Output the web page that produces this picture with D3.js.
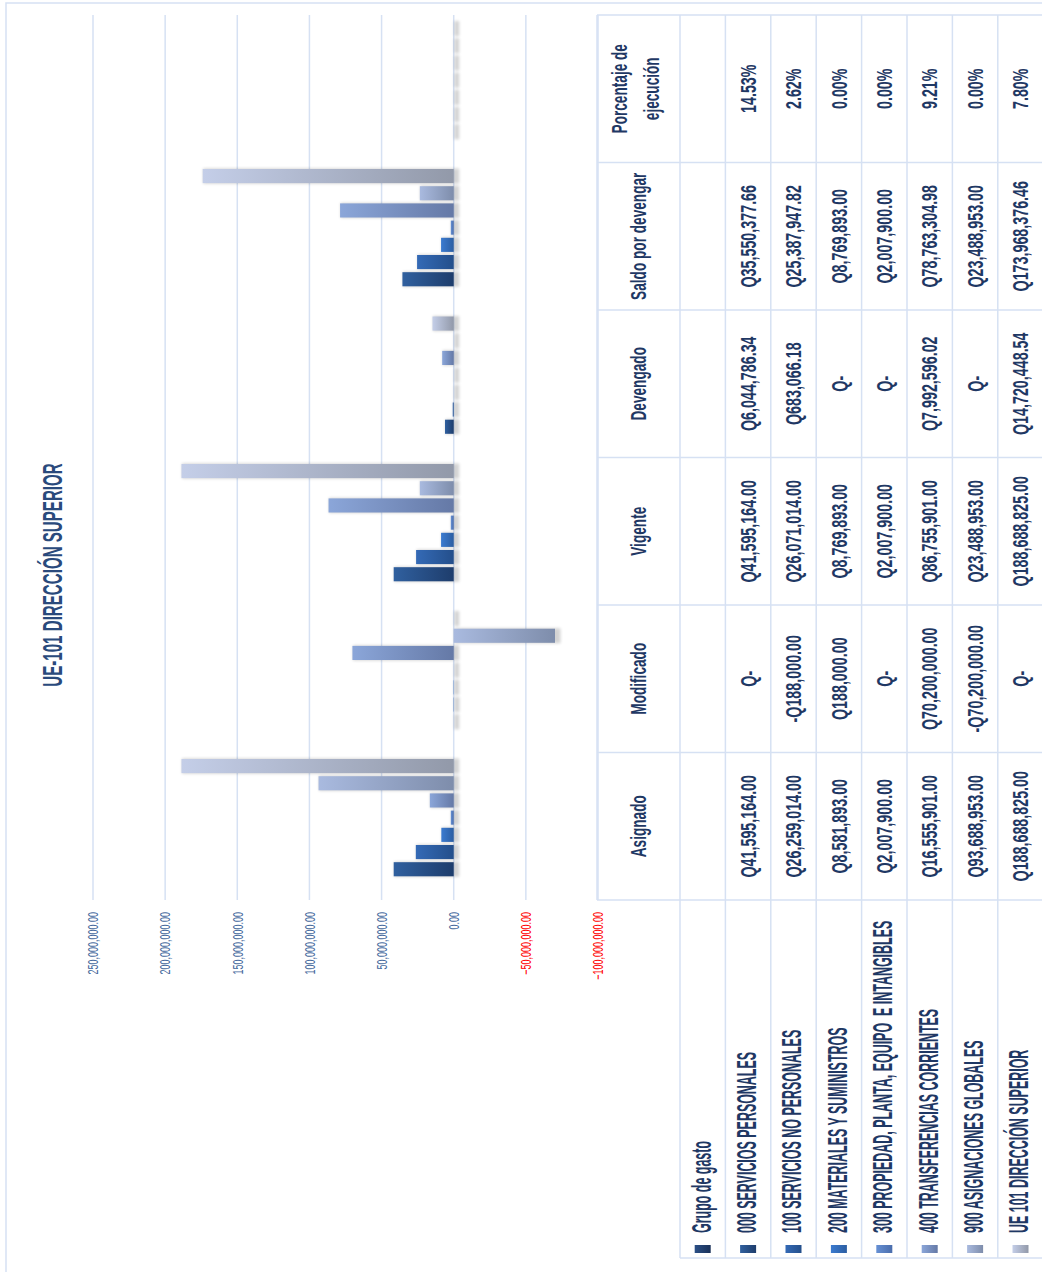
<!DOCTYPE html>
<html>
<head>
<meta charset="utf-8">
<script src="https://cdn.jsdelivr.net/npm/d3@7/dist/d3.min.js"></script>
<style>
  html, body { margin: 0; padding: 0; background: #fff; }
  svg { display: block; }
  text { font-family: "Liberation Sans", Arial, sans-serif; white-space: pre; }
</style>
</head>
<body>
<div id="chart"></div>
<script>
// ---- data ----
var title = "UE-101 DIRECCIÓN SUPERIOR";

var categories = ["Asignado", "Modificado", "Vigente", "Devengado", "Saldo por devengar", "Porcentaje de ejecución"];
var categoryLines = [["Asignado"], ["Modificado"], ["Vigente"], ["Devengado"], ["Saldo por devengar"], ["Porcentaje de", "ejecución"]];

var seriesNames = [
  "Grupo de gasto",
  "000 SERVICIOS PERSONALES",
  "100 SERVICIOS NO PERSONALES",
  "200 MATERIALES Y SUMINISTROS",
  "300 PROPIEDAD, PLANTA, EQUIPO  E INTANGIBLES",
  "400 TRANSFERENCIAS CORRIENTES",
  "900 ASIGNACIONES GLOBALES",
  "UE 101 DIRECCIÓN SUPERIOR"
];

// one value per category, in the order of `categories`
var grupoDeGasto      = [null, null, null, null, null, null];
var servicios000      = [41595164.00, 0, 41595164.00, 6044786.34, 35550377.66, 0.1453];
var servicios100      = [26259014.00, -188000.00, 26071014.00, 683066.18, 25387947.82, 0.0262];
var materiales200     = [8581893.00, 188000.00, 8769893.00, 0, 8769893.00, 0];
var propiedad300      = [2007900.00, 0, 2007900.00, 0, 2007900.00, 0];
var transferencias400 = [16555901.00, 70200000.00, 86755901.00, 7992596.02, 78763304.98, 0.0921];
var asignaciones900   = [93688953.00, -70200000.00, 23488953.00, 0, 23488953.00, 0];
var totalUE101        = [188688825.00, 0, 188688825.00, 14720448.54, 173968376.46, 0.0780];

var seriesValues = [grupoDeGasto, servicios000, servicios100, materiales200, propiedad300,
                    transferencias400, asignaciones900, totalUE101];

var valueTicks = [-100000000, -50000000, 0, 50000000, 100000000, 150000000, 200000000, 250000000];

// gradient [light end, dark end] per series
var seriesColors = [
  ["#2b4f86", "#1a3159"],
  ["#30609f", "#1e3d6c"],
  ["#346ab6", "#244f8b"],
  ["#3b7bd0", "#2c5ea2"],
  ["#6690d4", "#4a6dac"],
  ["#8ba6d9", "#6579a6"],
  ["#a9badf", "#7e8dab"],
  ["#c4cee8", "#9299a9"]
];

// ---- layout (drawn upright, then turned a quarter to the left) ----
var W = 1272, H = 1042;
var ink = "#1f3864";
var gridColor = "#d6e1f3";

var svg = d3.select("#chart").append("svg")
  .attr("width", H)
  .attr("height", W);

var defs = svg.append("defs");
seriesColors.forEach(function(c, i) {
  var lg = defs.append("linearGradient")
    .attr("id", "grad" + i)
    .attr("x1", 0).attr("y1", 0).attr("x2", 0).attr("y2", 1);
  lg.append("stop").attr("offset", "0%").attr("stop-color", c[0]);
  lg.append("stop").attr("offset", "100%").attr("stop-color", c[1]);
});
defs.append("filter").attr("id", "soft")
  .attr("x", "-50%").attr("y", "-50%").attr("width", "200%").attr("height", "200%")
  .append("feGaussianBlur").attr("stdDeviation", 1.6);

var g = svg.append("g")
  .attr("transform", "translate(0," + W + ") rotate(-90)");

// condensed text helper
function label(parent, x, y, str, o) {
  return parent.append("text")
    .attr("transform", "translate(" + x + "," + y + ") scale(" + o.sx + ",1)")
    .attr("text-anchor", o.anchor || "middle")
    .attr("dy", o.dy == null ? "0.35em" : o.dy)
    .style("font-size", o.size + "px")
    .style("font-weight", o.weight || "normal")
    .attr("fill", o.color || ink)
    .text(str);
}

// chart area border
g.append("rect")
  .attr("x", -10).attr("y", 6)
  .attr("width", 1279).attr("height", 1100)
  .attr("fill", "none")
  .attr("stroke", gridColor)
  .attr("stroke-width", 1.5);

var plotLeft = 372, plotRight = 1257;
var tableTop = 597, headerBottom = 680, rowH = 45.4, legendLeft = 14;

var x0 = d3.scaleBand().domain(categories).range([plotLeft, plotRight]);
var x1 = d3.scaleBand().domain(seriesNames).range([0, x0.bandwidth()])
  .paddingInner(0.18).paddingOuter(0.378);
var y = d3.scaleLinear().domain([-100000000, 250000000]).range([598, 93]);

// title
label(g, 697, 62, title, {size: 28, sx: 0.54, weight: "bold", dy: 0, color: "#2a4a7c"});

// gridlines
g.append("g").selectAll("line")
  .data(valueTicks)
  .enter().append("line")
  .attr("x1", plotLeft).attr("x2", plotRight)
  .attr("y1", function(d) { return y(d); })
  .attr("y2", function(d) { return y(d); })
  .attr("stroke", gridColor)
  .attr("stroke-width", 1.5);

// value axis
var axisSx = 0.6;
var axis = g.append("g")
  .attr("transform", "translate(" + plotLeft + ",0)")
  .call(d3.axisLeft(y).tickValues(valueTicks).tickFormat(d3.format(",.2f"))
    .tickSize(0).tickPadding(12 / axisSx));
axis.select(".domain").remove();
axis.attr("font-size", null).attr("font-family", null);
axis.selectAll("text")
  .attr("transform", "scale(" + axisSx + ",1)")
  .style("font-size", "15px")
  .attr("fill", function(d) { return d < 0 ? "#ff0000" : "#45689c"; });

// bars
var bars = [];
seriesValues.forEach(function(vals, s) {
  vals.forEach(function(v, c) {
    if (v == null) return;
    bars.push({series: s, category: categories[c], value: v});
  });
});

var barG = g.append("g");
var barX = function(d) { return x0(d.category) + x1(seriesNames[d.series]); };
var barTop = function(d) { return y(Math.max(d.value, 0)); };
var barH = function(d) { return Math.abs(y(d.value) - y(0)); };

barG.selectAll(".shadow")
  .data(bars)
  .enter().append("rect")
  .attr("class", "shadow")
  .attr("x", function(d) { return barX(d) - 0.5; })
  .attr("y", function(d) { return barTop(d) + 0.5; })
  .attr("width", x1.bandwidth() + 1)
  .attr("height", function(d) { return barH(d) + 5; })
  .attr("fill", "#000")
  .attr("opacity", 0.17)
  .attr("filter", "url(#soft)");

barG.selectAll(".bar")
  .data(bars)
  .enter().append("rect")
  .attr("class", "bar")
  .attr("x", barX)
  .attr("y", barTop)
  .attr("width", x1.bandwidth())
  .attr("height", barH)
  .attr("fill", function(d) { return "url(#grad" + d.series + ")"; });

// data table
var table = g.append("g");
var rowTop = function(i) { return headerBottom + i * rowH; };
var tableBottom = rowTop(seriesNames.length);
var edges = categories.map(function(c) { return x0(c); }).concat([plotRight]);

table.selectAll(".vline")
  .data(edges)
  .enter().append("line")
  .attr("x1", function(d) { return d; }).attr("x2", function(d) { return d; })
  .attr("y1", tableTop).attr("y2", tableBottom + 10)
  .attr("stroke", gridColor).attr("stroke-width", 1.5);

table.append("line")
  .attr("x1", legendLeft).attr("x2", legendLeft)
  .attr("y1", headerBottom).attr("y2", tableBottom + 10)
  .attr("stroke", gridColor).attr("stroke-width", 1.5);

table.append("line")
  .attr("x1", plotLeft).attr("x2", plotRight)
  .attr("y1", tableTop).attr("y2", tableTop)
  .attr("stroke", gridColor).attr("stroke-width", 1.5);

table.selectAll(".hline")
  .data(d3.range(seriesNames.length + 1))
  .enter().append("line")
  .attr("x1", legendLeft).attr("x2", plotRight)
  .attr("y1", rowTop).attr("y2", rowTop)
  .attr("stroke", gridColor).attr("stroke-width", 1.5);

// header
var headerMid = (tableTop + headerBottom) / 2;
categories.forEach(function(c, i) {
  var lines = categoryLines[i];
  lines.forEach(function(line, k) {
    var off = (k - (lines.length - 1) / 2) * 32;
    label(table, x0(c) + x0.bandwidth() / 2, headerMid - 3 * (lines.length - 1) + off, line,
      {size: 22, sx: 0.62, weight: "bold"});
  });
});

// legend keys and row labels
seriesNames.forEach(function(name, s) {
  var cy = rowTop(s) + rowH / 2;
  table.append("rect")
    .attr("x", 19).attr("y", cy - 8)
    .attr("width", 8).attr("height", 16)
    .attr("fill", "url(#grad" + s + ")");
  label(table, 39, cy, name, {size: 28, sx: 0.445, weight: "bold", anchor: "start", dy: "0.28em"});
});

// cell values
var fmtMoney = d3.format(",.2f");
var fmtPct = d3.format(".2%");
function cellText(v, c) {
  if (v == null) return "";
  if (c === categories.length - 1) return fmtPct(v);
  if (v === 0) return "Q-";
  return (v < 0 ? "-" : "") + "Q" + fmtMoney(Math.abs(v));
}
seriesValues.forEach(function(vals, s) {
  var cy = rowTop(s) + rowH / 2;
  vals.forEach(function(v, c) {
    label(table, x0(categories[c]) + x0.bandwidth() / 2, cy, cellText(v, c),
      {size: 22, sx: 0.65, weight: "bold"});
  });
});
</script>
</body>
</html>
